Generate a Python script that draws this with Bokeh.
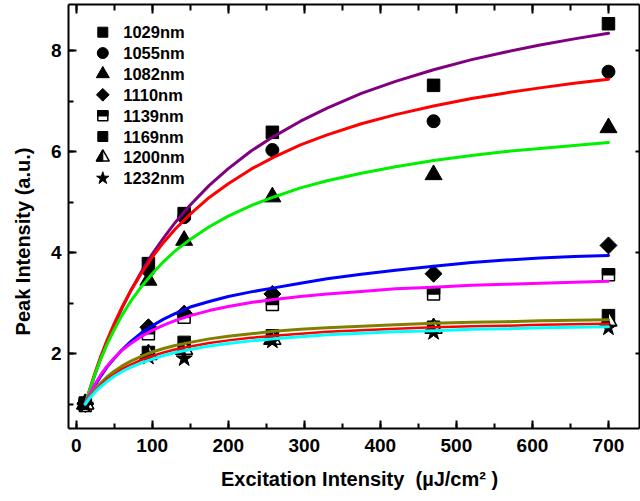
import math
from bokeh.plotting import figure
from bokeh.models import LinearAxis, Range1d, SingleIntervalTicker
from bokeh.core.properties import value
from bokeh.embed import file_html
from bokeh.resources import INLINE

# ---------------- data ----------------
excitation = [12, 95, 142, 258, 470, 700]
series_names = ["1029nm", "1055nm", "1082nm", "1110nm", "1139nm", "1169nm", "1200nm", "1232nm"]
peak_1029 = [1.00, 3.78, 4.77, 6.38, 7.31, 8.53]
peak_1055 = [1.00, 3.65, 4.70, 6.03, 6.60, 7.58]
peak_1082 = [1.00, 3.45, 4.24, 5.10, 5.54, 6.47]
peak_1110 = [1.00, 2.52, 2.79, 3.18, 3.58, 4.14]
peak_1139 = [0.97, 2.39, 2.72, 2.97, 3.18, 3.56]
peak_1169 = [1.02, 2.02, 2.22, 2.35, 2.52, 2.75]
peak_1200 = [1.00, 1.98, 2.08, 2.28, 2.50, 2.64]
peak_1232 = [0.98, 1.93, 1.90, 2.25, 2.42, 2.51]

# fitted curves, values
fit_x = [12, 18, 25, 32, 40, 50, 60, 72, 85, 100, 115, 130, 150, 175, 200,
         230, 260, 295, 330, 375, 420, 470, 520, 565, 610, 655, 700]
fit_1029 = [1.00, 1.29, 1.60, 1.89, 2.20, 2.56, 2.89, 3.25, 3.60, 3.97, 4.29, 4.59, 4.94, 5.33, 5.66,
            6.01, 6.30, 6.60, 6.86, 7.15, 7.39, 7.62, 7.82, 7.97, 8.11, 8.23, 8.34]
fit_1055 = [1.00, 1.30, 1.63, 1.93, 2.24, 2.59, 2.91, 3.25, 3.57, 3.91, 4.20, 4.46, 4.76, 5.09, 5.36,
            5.65, 5.89, 6.13, 6.33, 6.55, 6.73, 6.90, 7.05, 7.16, 7.26, 7.35, 7.43]
fit_1082 = [1.00, 1.29, 1.60, 1.88, 2.16, 2.47, 2.75, 3.04, 3.31, 3.58, 3.82, 4.03, 4.26, 4.51, 4.72,
            4.93, 5.10, 5.28, 5.42, 5.57, 5.70, 5.82, 5.92, 6.00, 6.06, 6.12, 6.18]
fit_1110 = [1.00, 1.19, 1.38, 1.54, 1.72, 1.90, 2.07, 2.24, 2.40, 2.55, 2.68, 2.79, 2.92, 3.03, 3.13,
            3.22, 3.30, 3.39, 3.48, 3.57, 3.65, 3.73, 3.80, 3.85, 3.89, 3.92, 3.94]
fit_1139 = [1.00, 1.20, 1.40, 1.57, 1.74, 1.91, 2.06, 2.20, 2.33, 2.46, 2.56, 2.65, 2.75, 2.85, 2.93,
            3.01, 3.07, 3.13, 3.18, 3.23, 3.28, 3.31, 3.35, 3.37, 3.39, 3.41, 3.43]
fit_1169 = [1.00, 1.15, 1.29, 1.41, 1.53, 1.65, 1.75, 1.85, 1.94, 2.03, 2.10, 2.16, 2.22, 2.29, 2.34,
            2.39, 2.44, 2.48, 2.51, 2.54, 2.57, 2.60, 2.62, 2.63, 2.65, 2.66, 2.67]
fit_1200 = [1.00, 1.13, 1.26, 1.37, 1.48, 1.59, 1.69, 1.78, 1.87, 1.95, 2.02, 2.08, 2.14, 2.21, 2.26,
            2.31, 2.35, 2.39, 2.43, 2.46, 2.49, 2.52, 2.54, 2.55, 2.57, 2.58, 2.59]
fit_1232 = [1.00, 1.12, 1.24, 1.34, 1.44, 1.55, 1.64, 1.73, 1.81, 1.89, 1.96, 2.02, 2.08, 2.15, 2.20,
            2.25, 2.29, 2.33, 2.37, 2.40, 2.43, 2.45, 2.48, 2.49, 2.51, 2.52, 2.53]

x_ticks_step = 100
y_ticks_step = 2
x_label = "Excitation Intensity\u00a0\u00a0(\u00b5J/cm\u00b2\u00a0)"
y_label = "Peak Intensity (a.u.)"

# ---------------- styling / layout ----------------
FONT_NAME = "Liberation Sans"
FONT = value(FONT_NAME)
FW, FH = 571, 424
BL, BR, BT, BB = 68, 1, 4, 73
X0, X1 = -10.1, 740.8
Y0, Y1 = 0.515, 8.911
PPX = FW / (X1 - X0)
PPY = FH / (Y1 - Y0)
NB = "\u00a0"

peaks = [peak_1029, peak_1055, peak_1082, peak_1110, peak_1139, peak_1169, peak_1200, peak_1232]
fits = [fit_1029, fit_1055, fit_1082, fit_1110, fit_1139, fit_1169, fit_1200, fit_1232]
kinds = ["square", "circle", "triangle", "diamond", "halfsquare", "square", "halftriangle", "star"]
data_sizes = [12.5, 13, 17, 12, 12, 12.5, 17, 17]
legend_sizes = [10, 11, 13, 9, 10, 10, 13, 13]
fit_colors = ["#800080", "#ff0000", "#00f000", "#0000ff", "#ff00ff", "#808000", "#ff0000", "#00ffff"]
fit_widths = [3, 3, 3, 3, 3, 3, 2.5, 3]

p = figure(frame_width=FW, frame_height=FH,
           x_range=Range1d(X0, X1), y_range=Range1d(Y0, Y1),
           output_backend="svg", toolbar_location=None,
           min_border_left=BL, min_border_right=BR, min_border_top=BT, min_border_bottom=BB)
p.grid.visible = False
p.outline_line_color = None
p.background_fill_color = "white"
p.border_fill_color = "white"


def style_axis(ax, labels=True, tick_in=8, minor_in=5):
    ax.axis_line_width = 2
    ax.axis_line_color = "black"
    ax.major_tick_line_width = 2
    ax.minor_tick_line_width = 2
    ax.major_tick_in = tick_in
    ax.major_tick_out = 0
    ax.minor_tick_in = minor_in
    ax.minor_tick_out = 0
    if labels:
        ax.major_label_text_font = FONT_NAME
        ax.major_label_text_font_style = "bold"
        ax.major_label_text_font_size = "19px"
        ax.major_label_text_color = "black"
    else:
        ax.major_label_text_font_size = "1px"
        ax.major_label_text_color = None
        ax.major_label_standoff = 0


xa = p.xaxis[0]
ya = p.yaxis[0]
xa.ticker = SingleIntervalTicker(interval=x_ticks_step, num_minor_ticks=2)
ya.ticker = SingleIntervalTicker(interval=y_ticks_step, num_minor_ticks=2)
style_axis(xa)
style_axis(ya)
xa.major_label_standoff = 10
ya.major_label_standoff = 7
# non-breaking padding only nudges the centred titles to where the reference has them
xa.axis_label = NB * 2 + x_label
ya.axis_label = y_label + NB * 9
for ax, fs in ((xa, "20px"), (ya, "20px")):
    ax.axis_label_text_font = FONT_NAME
    ax.axis_label_text_font_style = "bold"
    ax.axis_label_text_font_size = fs
    ax.axis_label_text_color = "black"
xa.axis_label_standoff = 13
ya.axis_label_standoff = 14

top = LinearAxis(ticker=SingleIntervalTicker(interval=x_ticks_step, num_minor_ticks=2))
style_axis(top, labels=False, tick_in=9, minor_in=6)
p.add_layout(top, "above")
right = LinearAxis(ticker=SingleIntervalTicker(interval=y_ticks_step, num_minor_ticks=2))
style_axis(right, labels=False, tick_in=4, minor_in=0)
right.minor_tick_line_color = None
p.add_layout(right, "right")


def draw_marker(kind, xs, ys, size):
    if kind in ("square", "circle", "star", "triangle"):
        p.scatter(xs, ys, marker=kind, size=size, fill_color="black", line_color="black", line_width=1)
    elif kind == "diamond":
        p.scatter(xs, ys, marker="square", size=size, angle=math.pi / 4,
                  fill_color="black", line_color="black", line_width=1)
    elif kind == "halfsquare":
        p.scatter(xs, ys, marker="square", size=size, fill_color="white", line_color="black", line_width=1.5)
        dy = (size / 4.0) / PPY
        p.rect(xs, [y + dy for y in ys], width=size, height=size / 2.0,
               width_units="screen", height_units="screen",
               fill_color="black", line_color="black", line_width=1.5)
    elif kind == "halftriangle":
        r = size / 2.0
        h = r * math.sqrt(3)
        a = h / 3.0
        fx = [[x - r / PPX, x + r / PPX, x] for x in xs]
        fy = [[y - a / PPY, y - a / PPY, y + (h - a) / PPY] for y in ys]
        lx = [[x - r / PPX, x, x] for x in xs]
        ly = [[y - a / PPY, y - a / PPY, y + (h - a) / PPY] for y in ys]
        p.patches(fx, fy, fill_color="white", line_color="black", line_width=1.5)
        p.patches(lx, ly, fill_color="black", line_color="black", line_width=1)


# data markers
for kind, ys, sz in zip(kinds, peaks, data_sizes):
    draw_marker(kind, excitation, ys, sz)

# fitted curves drawn over the markers
for ys, col, lw in zip(fits, fit_colors, fit_widths):
    p.line(fit_x, ys, line_color=col, line_width=lw, line_join="round", line_cap="round")

# legend (positions derived from pixel layout)
leg_mx_px = 34.3
leg_tx_px = 54.7
leg_y0_px = 27.7
leg_dy_px = 20.86
for i, (kind, name, sz) in enumerate(zip(kinds, series_names, legend_sizes)):
    yy = Y1 - (leg_y0_px + i * leg_dy_px) / PPY
    xm = X0 + leg_mx_px / PPX
    draw_marker(kind, [xm], [yy], sz)
    p.text([X0 + leg_tx_px / PPX], [yy], text=[name], text_font=FONT, text_font_style="bold",
           text_font_size="16.5px", text_baseline="middle", text_align="left", text_color="black")

open("out.html", "w").write(file_html(p, INLINE))
